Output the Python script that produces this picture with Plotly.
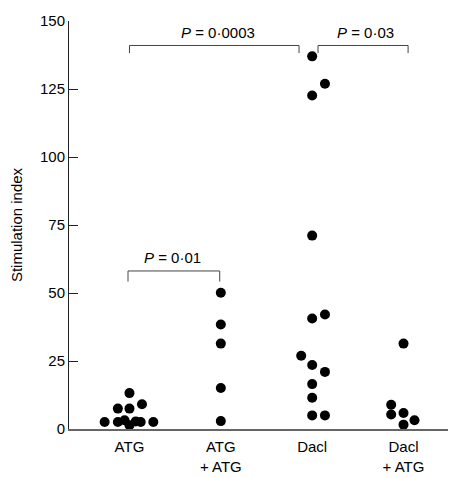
import plotly.graph_objects as go

categories = ["ATG", "ATG<br>+ ATG", "Dacl", "Dacl<br>+ ATG"]

atg = [13.2, 7.5, 7.5, 9.1, 2.6, 2.6, 3.2, 1.4, 2.8, 2.6, 2.6]
atg_jitter = [0, -0.127, 0, 0.137, -0.272, -0.127, -0.054, 0.0, 0.069, 0.123, 0.261]

atg_atg = [50.1, 38.4, 31.4, 15.1, 2.9]
atg_atg_jitter = [0, 0, 0, 0, 0]

dacl = [137.0, 126.9, 122.6, 71.1, 40.6, 42.1, 26.9, 23.5, 21.0, 16.5, 11.5, 5.0, 5.0]
dacl_jitter = [0, 0.14, 0, 0, 0, 0.14, -0.12, 0, 0.14, 0, 0, 0, 0.14]

dacl_atg = [31.4, 8.9, 5.3, 5.9, 3.2, 1.6]
dacl_atg_jitter = [0, -0.135, -0.135, 0, 0.12, 0]

y_ticks = [0, 25, 50, 75, 100, 125, 150]

groups = [atg, atg_atg, dacl, dacl_atg]
jitters = [atg_jitter, atg_atg_jitter, dacl_jitter, dacl_atg_jitter]

fig = go.Figure()
for i, (vals, jit) in enumerate(zip(groups, jitters)):
    fig.add_trace(go.Scatter(
        x=[i + j for j in jit], y=vals, mode="markers",
        marker=dict(color="black", size=10, line=dict(width=0)),
        cliponaxis=False, showlegend=False,
    ))

# Significance brackets: (x0, x1, y_line, y_tick_bottom, label, label_x, label_y)
brackets = [
    (0.0, 1.856, 141.0, 138.2, "<i>P</i> = 0·0003", 0.969, 145.8),
    (2.064, 3.05, 141.0, 138.2, "<i>P</i> = 0·03", 2.58, 145.8),
    (-0.016, 0.988, 58.1, 54.2, "<i>P</i> = 0·01", 0.476, 63.0),
]
line_style = dict(color="#444444", width=1)
for x0, x1, yl, yb, txt, tx, ty in brackets:
    fig.add_shape(type="line", x0=x0, x1=x1, y0=yl, y1=yl, xref="x", yref="y", line=line_style)
    fig.add_shape(type="line", x0=x0, x1=x0, y0=yl, y1=yb, xref="x", yref="y", line=line_style)
    fig.add_shape(type="line", x0=x1, x1=x1, y0=yl, y1=yb, xref="x", yref="y", line=line_style)
    fig.add_annotation(x=tx, y=ty, text=txt, showarrow=False, xref="x", yref="y",
                       font=dict(size=15, color="black"))

fig.update_layout(
    width=456, height=478,
    margin=dict(l=61, r=0, t=13, b=57),
    plot_bgcolor="white", paper_bgcolor="white",
    font=dict(family="Liberation Sans, Arial, sans-serif", size=15, color="black"),
)
fig.update_xaxes(
    range=[-0.662, 3.662], tickvals=[0, 1, 2, 3], ticktext=categories,
    showgrid=False, zeroline=False, showline=True, linecolor="#666666", linewidth=2,
    ticks="outside", ticklen=3, tickcolor="rgba(0,0,0,0)",
    tickfont=dict(size=15),
)
fig.update_yaxes(
    range=[0, 150], tickvals=y_ticks,
    showgrid=False, zeroline=False, showline=True, linecolor="#222222", linewidth=1,
    ticks="inside", ticklen=9, tickcolor="#222222",
    title=dict(text="Stimulation index", font=dict(size=15), standoff=14),
    tickfont=dict(size=15),
)

fig.write_html("out.html")
